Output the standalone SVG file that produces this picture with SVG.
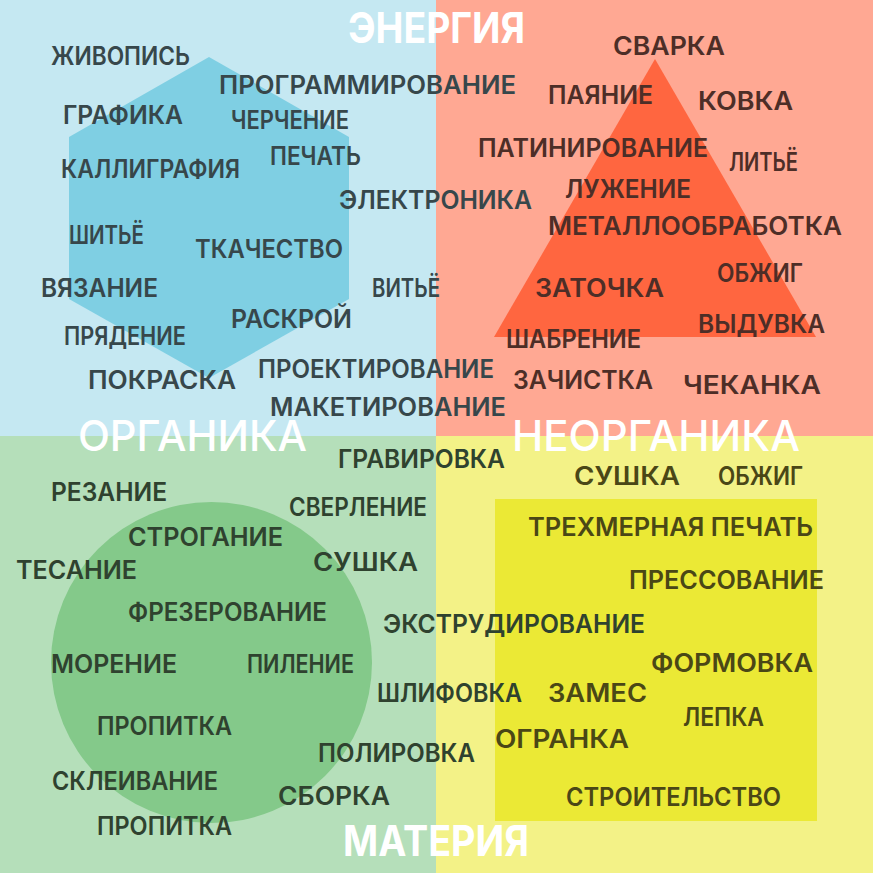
<svg xmlns="http://www.w3.org/2000/svg" width="873" height="873" viewBox="0 0 873 873">
<style>
text{font-family:Inter,"Liberation Sans","DejaVu Sans",sans-serif;font-size:25px;font-weight:600;}
.tl{fill:#37474b}.tr{fill:#4d2e27}.bl{fill:#2f422f}.br{fill:#4a4716}
.ttl{fill:#ffffff;font-size:42px;font-weight:700}
.ttm{font-weight:500}
</style>
<g id="background">
<rect x="0" y="0" width="436" height="436" fill="#c5e8f2"/>
<rect x="436" y="0" width="437" height="436" fill="#ffa893"/>
<rect x="0" y="436" width="436" height="437" fill="#b5dfba"/>
<rect x="436" y="436" width="437" height="437" fill="#f3f287"/>
</g>
<g id="shapes">
<polygon id="hexagon" points="209,57 349,137 349,299 209,378 69,299 69,137" fill="#7fcfe3"/>
<polygon id="triangle" points="655,59 816,337 494,337" fill="#ff6640"/>
<circle id="circle" cx="211.5" cy="662.5" r="160.5" fill="#84c98a"/>
<rect id="square" x="495" y="499" width="322" height="322" fill="#ebe935"/>
</g>
<g id="titles">
<text class="ttl" x="348" y="43" textLength="177" lengthAdjust="spacingAndGlyphs">ЭНЕРГИЯ</text>
<text class="ttl ttm" x="78" y="451" textLength="229" lengthAdjust="spacingAndGlyphs">ОРГАНИКА</text>
<text class="ttl ttm" x="512" y="451" textLength="288" lengthAdjust="spacingAndGlyphs">НЕОРГАНИКА</text>
<text class="ttl" x="343" y="856" textLength="186" lengthAdjust="spacingAndGlyphs">МАТЕРИЯ</text>
</g>
<g id="energy-organic">
<text class="tl" x="51" y="65" textLength="139" lengthAdjust="spacingAndGlyphs">ЖИВОПИСЬ</text>
<text class="tl" x="219" y="94" textLength="297" lengthAdjust="spacingAndGlyphs">ПРОГРАММИРОВАНИЕ</text>
<text class="tl" x="63" y="124" textLength="120" lengthAdjust="spacingAndGlyphs">ГРАФИКА</text>
<text class="tl" x="231" y="129" textLength="118" lengthAdjust="spacingAndGlyphs">ЧЕРЧЕНИЕ</text>
<text class="tl" x="270" y="165" textLength="91" lengthAdjust="spacingAndGlyphs">ПЕЧАТЬ</text>
<text class="tl" x="61" y="178" textLength="179" lengthAdjust="spacingAndGlyphs">КАЛЛИГРАФИЯ</text>
<text class="tl" x="339" y="209" textLength="193" lengthAdjust="spacingAndGlyphs">ЭЛЕКТРОНИКА</text>
<text class="tl" x="69" y="244" textLength="75" lengthAdjust="spacingAndGlyphs">ШИТЬЁ</text>
<text class="tl" x="195" y="258" textLength="148" lengthAdjust="spacingAndGlyphs">ТКАЧЕСТВО</text>
<text class="tl" x="41" y="297" textLength="117" lengthAdjust="spacingAndGlyphs">ВЯЗАНИЕ</text>
<text class="tl" x="372" y="297" textLength="68" lengthAdjust="spacingAndGlyphs">ВИТЬЁ</text>
<text class="tl" x="231" y="328" textLength="121" lengthAdjust="spacingAndGlyphs">РАСКРОЙ</text>
<text class="tl" x="64" y="345" textLength="122" lengthAdjust="spacingAndGlyphs">ПРЯДЕНИЕ</text>
<text class="tl" x="258" y="378" textLength="236" lengthAdjust="spacingAndGlyphs">ПРОЕКТИРОВАНИЕ</text>
<text class="tl" x="88" y="389" textLength="148" lengthAdjust="spacingAndGlyphs">ПОКРАСКА</text>
<text class="tl" x="270" y="416" textLength="236" lengthAdjust="spacingAndGlyphs">МАКЕТИРОВАНИЕ</text>
</g>
<g id="energy-inorganic">
<text class="tr" x="613" y="55" textLength="112" lengthAdjust="spacingAndGlyphs">СВАРКА</text>
<text class="tr" x="548" y="104" textLength="105" lengthAdjust="spacingAndGlyphs">ПАЯНИЕ</text>
<text class="tr" x="698" y="110" textLength="95" lengthAdjust="spacingAndGlyphs">КОВКА</text>
<text class="tr" x="478" y="157" textLength="230" lengthAdjust="spacingAndGlyphs">ПАТИНИРОВАНИЕ</text>
<text class="tr" x="729" y="171" textLength="69" lengthAdjust="spacingAndGlyphs">ЛИТЬЁ</text>
<text class="tr" x="565" y="198" textLength="126" lengthAdjust="spacingAndGlyphs">ЛУЖЕНИЕ</text>
<text class="tr" x="548" y="235" textLength="294" lengthAdjust="spacingAndGlyphs">МЕТАЛЛООБРАБОТКА</text>
<text class="tr" x="717" y="282" textLength="86" lengthAdjust="spacingAndGlyphs">ОБЖИГ</text>
<text class="tr" x="535" y="297" textLength="129" lengthAdjust="spacingAndGlyphs">ЗАТОЧКА</text>
<text class="tr" x="698" y="333" textLength="127" lengthAdjust="spacingAndGlyphs">ВЫДУВКА</text>
<text class="tr" x="506" y="348" textLength="135" lengthAdjust="spacingAndGlyphs">ШАБРЕНИЕ</text>
<text class="tr" x="513" y="389" textLength="140" lengthAdjust="spacingAndGlyphs">ЗАЧИСТКА</text>
<text class="tr" x="683" y="394" textLength="138" lengthAdjust="spacingAndGlyphs">ЧЕКАНКА</text>
</g>
<g id="matter-organic">
<text class="bl" x="338" y="468" textLength="167" lengthAdjust="spacingAndGlyphs">ГРАВИРОВКА</text>
<text class="bl" x="51" y="501" textLength="116" lengthAdjust="spacingAndGlyphs">РЕЗАНИЕ</text>
<text class="bl" x="289" y="516" textLength="138" lengthAdjust="spacingAndGlyphs">СВЕРЛЕНИЕ</text>
<text class="bl" x="128" y="546" textLength="155" lengthAdjust="spacingAndGlyphs">СТРОГАНИЕ</text>
<text class="bl" x="313" y="571" textLength="105" lengthAdjust="spacingAndGlyphs">СУШКА</text>
<text class="bl" x="16" y="579" textLength="121" lengthAdjust="spacingAndGlyphs">ТЕСАНИЕ</text>
<text class="bl" x="128" y="621" textLength="199" lengthAdjust="spacingAndGlyphs">ФРЕЗЕРОВАНИЕ</text>
<text class="bl" x="383" y="633" textLength="262" lengthAdjust="spacingAndGlyphs">ЭКСТРУДИРОВАНИЕ</text>
<text class="bl" x="51" y="673" textLength="126" lengthAdjust="spacingAndGlyphs">МОРЕНИЕ</text>
<text class="bl" x="247" y="673" textLength="107" lengthAdjust="spacingAndGlyphs">ПИЛЕНИЕ</text>
<text class="bl" x="377" y="702" textLength="145" lengthAdjust="spacingAndGlyphs">ШЛИФОВКА</text>
<text class="bl" x="97" y="735" textLength="135" lengthAdjust="spacingAndGlyphs">ПРОПИТКА</text>
<text class="bl" x="318" y="762" textLength="157" lengthAdjust="spacingAndGlyphs">ПОЛИРОВКА</text>
<text class="bl" x="52" y="790" textLength="166" lengthAdjust="spacingAndGlyphs">СКЛЕИВАНИЕ</text>
<text class="bl" x="278" y="805" textLength="112" lengthAdjust="spacingAndGlyphs">СБОРКА</text>
<text class="bl" x="97" y="835" textLength="135" lengthAdjust="spacingAndGlyphs">ПРОПИТКА</text>
</g>
<g id="matter-inorganic">
<text class="br" x="574" y="485" textLength="106" lengthAdjust="spacingAndGlyphs">СУШКА</text>
<text class="br" x="718" y="485" textLength="85" lengthAdjust="spacingAndGlyphs">ОБЖИГ</text>
<text class="br" x="528" y="536" textLength="285" lengthAdjust="spacingAndGlyphs">ТРЕХМЕРНАЯ ПЕЧАТЬ</text>
<text class="br" x="629" y="589" textLength="195" lengthAdjust="spacingAndGlyphs">ПРЕССОВАНИЕ</text>
<text class="br" x="651" y="672" textLength="162" lengthAdjust="spacingAndGlyphs">ФОРМОВКА</text>
<text class="br" x="548" y="702" textLength="99" lengthAdjust="spacingAndGlyphs">ЗАМЕС</text>
<text class="br" x="683" y="726" textLength="81" lengthAdjust="spacingAndGlyphs">ЛЕПКА</text>
<text class="br" x="495" y="748" textLength="134" lengthAdjust="spacingAndGlyphs">ОГРАНКА</text>
<text class="br" x="566" y="806" textLength="215" lengthAdjust="spacingAndGlyphs">СТРОИТЕЛЬСТВО</text>
</g>
</svg>
